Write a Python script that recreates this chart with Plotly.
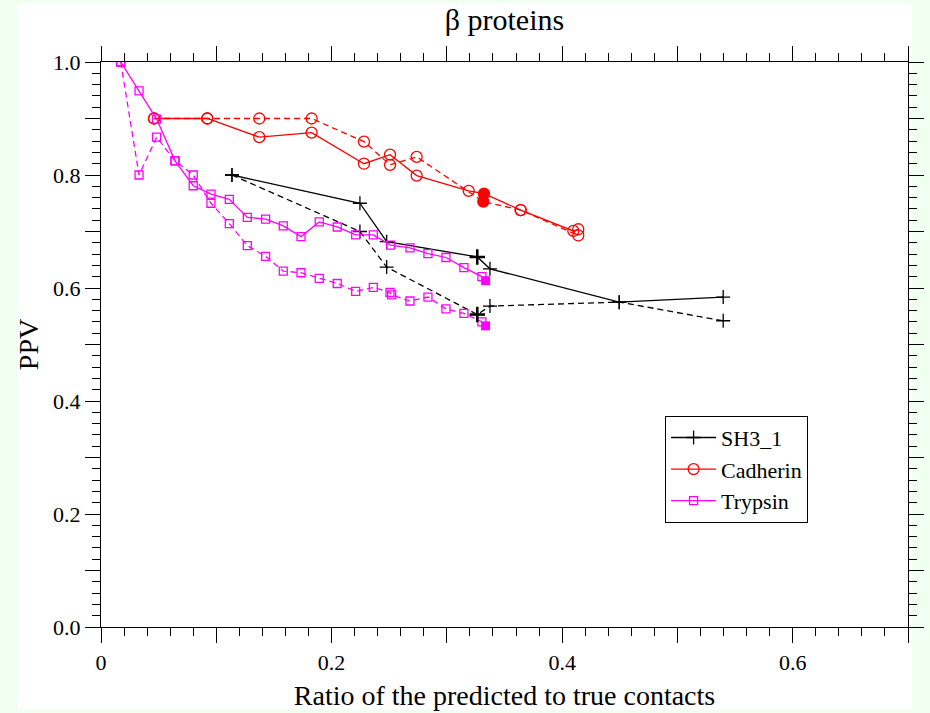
import plotly.graph_objects as go

# ---- data ----
sh3_solid_x = [0.1136, 0.2246, 0.2478, 0.3264, 0.3374, 0.4495, 0.5397]
sh3_solid_y = [0.800, 0.750, 0.682, 0.655, 0.634, 0.575, 0.584]
sh3_dash_x = [0.1136, 0.2246, 0.2478, 0.3264, 0.3374, 0.4495, 0.5397]
sh3_dash_y = [0.800, 0.700, 0.637, 0.553, 0.568, 0.575, 0.542]

cad_solid_x = [0.0460, 0.0922, 0.1373, 0.1827, 0.2281, 0.2507, 0.2738, 0.3189, 0.3322, 0.3640, 0.4097, 0.4140]
cad_solid_y = [0.900, 0.900, 0.867, 0.875, 0.820, 0.836, 0.799, 0.772, 0.767, 0.738, 0.701, 0.704]
cad_dash_x = [0.0460, 0.0922, 0.1373, 0.1827, 0.2281, 0.2507, 0.2738, 0.3316, 0.3640, 0.4140]
cad_dash_y = [0.900, 0.900, 0.900, 0.900, 0.859, 0.818, 0.832, 0.753, 0.738, 0.693]

tryp_solid_x = [0.0171, 0.0330, 0.0483, 0.0642, 0.0800, 0.0954, 0.1113, 0.1269, 0.1428, 0.1581,
                0.1735, 0.1893, 0.2049, 0.2209, 0.2362, 0.2512, 0.2680, 0.2836, 0.2992, 0.3148, 0.3304]
tryp_solid_y = [1.000, 0.949, 0.899, 0.825, 0.781, 0.766, 0.757, 0.725, 0.722, 0.710,
                0.691, 0.717, 0.708, 0.694, 0.694, 0.676, 0.671, 0.661, 0.654, 0.636, 0.620]
tryp_dash_x = [0.0171, 0.0330, 0.0483, 0.0642, 0.0800, 0.0954, 0.1113, 0.1269, 0.1428, 0.1581,
               0.1735, 0.1893, 0.2049, 0.2209, 0.2362, 0.2507, 0.2521, 0.2680, 0.2836, 0.2992,
               0.3148, 0.3304]
tryp_dash_y = [1.000, 0.800, 0.867, 0.825, 0.800, 0.750, 0.714, 0.675, 0.656, 0.630,
               0.627, 0.617, 0.608, 0.594, 0.601, 0.592, 0.588, 0.577, 0.584, 0.563,
               0.555, 0.540]

# highlighted (filled) points
sh3_hl_x = [0.3264, 0.3264]
sh3_hl_y = [0.655, 0.553]
cad_hl_x = [0.3322, 0.3316]
cad_hl_y = [0.767, 0.753]
tryp_hl_x = [0.3336, 0.3336]
tryp_hl_y = [0.613, 0.533]

x_tick_vals = [0, 0.1, 0.2, 0.3, 0.4, 0.5, 0.6, 0.7]
x_tick_text = ["0", "", "0.2", "", "0.4", "", "0.6", ""]
y_tick_vals = [0, 0.1, 0.2, 0.3, 0.4, 0.5, 0.6, 0.7, 0.8, 0.9, 1.0]
y_tick_text = ["0.0", "", "0.2", "", "0.4", "", "0.6", "", "0.8", "", "1.0"]

BLACK = "#000000"
RED = "#ff0000"
MAG = "#ff00ff"
FONT = "'Liberation Serif', 'Times New Roman', 'DejaVu Serif', serif"

fig = go.Figure()

def add_series(x, y, color, symbol, size, dash, name, show):
    fig.add_trace(go.Scatter(
        x=x, y=y, mode="lines+markers", name=name, showlegend=show,
        line=dict(color=color, width=1.3, dash=dash),
        marker=dict(symbol=symbol, size=size, color=color,
                    line=dict(color=color, width=1.3)),
    ))

add_series(sh3_solid_x, sh3_solid_y, BLACK, "cross-thin", 10, "solid", "SH3_1", True)
add_series(sh3_dash_x, sh3_dash_y, BLACK, "cross-thin", 10, "6px,4px", "SH3_1", False)
add_series(cad_solid_x, cad_solid_y, RED, "circle-open", 11, "solid", "Cadherin", True)
add_series(cad_dash_x, cad_dash_y, RED, "circle-open", 11, "6px,4px", "Cadherin", False)
add_series(tryp_solid_x, tryp_solid_y, MAG, "square-open", 8, "solid", "Trypsin", True)
add_series(tryp_dash_x, tryp_dash_y, MAG, "square-open", 8, "6px,4px", "Trypsin", False)

fig.add_trace(go.Scatter(x=sh3_hl_x, y=sh3_hl_y, mode="markers", showlegend=False,
                         marker=dict(symbol="cross-thin", size=11, color=BLACK,
                                     line=dict(color=BLACK, width=2.5))))
fig.add_trace(go.Scatter(x=cad_hl_x, y=cad_hl_y, mode="markers", showlegend=False,
                         marker=dict(symbol="circle", size=11, color=RED)))
fig.add_trace(go.Scatter(x=tryp_hl_x, y=tryp_hl_y, mode="markers", showlegend=False,
                         marker=dict(symbol="square", size=9, color=MAG)))

axis_common = dict(
    showgrid=False, zeroline=False, showline=True, linecolor="black", linewidth=1.3,
    mirror="allticks", ticks="outside", ticklen=15, tickwidth=1.3, tickcolor="black",
    tickfont=dict(family=FONT, size=22, color="black"),
    minor=dict(ticks="outside", ticklen=8, tickwidth=1, tickcolor="black", dtick=0.02),
    automargin=False,
)

fig.update_xaxes(range=[0, 0.7], tickmode="array", tickvals=x_tick_vals, ticktext=x_tick_text,
                 title=dict(text="Ratio of the predicted to true contacts",
                            font=dict(family=FONT, size=28, color="black"), standoff=11),
                 **axis_common)
fig.update_yaxes(range=[0, 1.0], tickmode="array", tickvals=y_tick_vals, ticktext=y_tick_text,
                 title=dict(text="PPV", font=dict(family=FONT, size=28, color="black"), standoff=6),
                 **axis_common)

fig.add_shape(type="rect", xref="paper", yref="paper", x0=-0.1029, x1=1.005, y0=-0.147, y1=1.104,
              fillcolor="white", line=dict(width=0), layer="below")

fig.update_layout(
    width=930, height=713,
    margin=dict(l=101, r=22, t=62, b=86, autoexpand=False),
    paper_bgcolor="#f0fff0", plot_bgcolor="white",
    title=dict(text="β proteins", x=0.5, xref="paper", y=0.972, yanchor="middle",
               font=dict(family=FONT, size=30, color="black")),
    legend=dict(x=0.699, y=0.374, xanchor="left", yanchor="top",
                bgcolor="white", bordercolor="black", borderwidth=1,
                font=dict(family=FONT, size=22, color="black"),
                tracegroupgap=0, itemwidth=45),
    showlegend=True,
)

fig.write_html("out.html")
